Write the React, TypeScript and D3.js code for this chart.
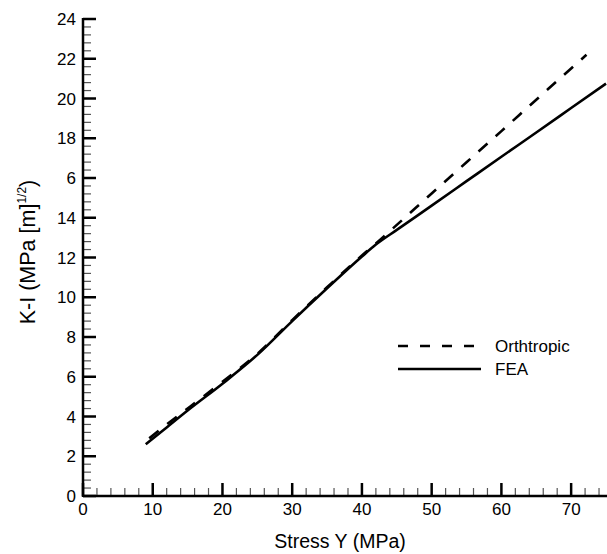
import React from "react";
import * as d3 from "d3";

const fea_x = [9, 12, 15, 20, 25, 30, 35, 40, 42, 45, 50, 55, 60, 65, 70, 75];
const fea_y = [2.6, 3.45, 4.3, 5.65, 7.1, 8.8, 10.45, 12.05, 12.65, 13.39, 14.61, 15.84, 17.07, 18.29, 19.52, 20.75];

const ortho_x = [9.5, 12, 15, 20, 25, 30, 35, 40, 42, 45, 50, 55, 60, 65, 70, 72.2];
const ortho_y = [2.9, 3.6, 4.4, 5.75, 7.15, 8.85, 10.5, 12.1, 12.7, 13.64, 15.22, 16.79, 18.36, 19.94, 21.51, 22.2];

const xTicks = [0, 10, 20, 30, 40, 50, 60, 70];
const xTickLabels = ["0", "10", "20", "30", "40", "50", "60", "70"];
const yTicks = [0, 2, 4, 6, 8, 10, 12, 14, 16, 18, 20, 22, 24];
const yTickLabels = ["0", "2", "4", "6", "8", "10", "12", "14", "6", "18", "20", "22", "24"];

const seriesNames = ["Orthtropic", "FEA"];

const W = 607;
const H = 554;
const L = 83, R = 606, T = 19, B = 496;
const FONT = "Liberation Sans, Arial, Helvetica, sans-serif";

export default function App() {
  const x = d3.scaleLinear().domain([0, 75]).range([L, R]);
  const y = d3.scaleLinear().domain([0, 24]).range([B, T]);
  const line = d3
    .line<[number, number]>()
    .x((d) => x(d[0]))
    .y((d) => y(d[1]))
    .curve(d3.curveMonotoneX);

  const feaData: [number, number][] = fea_x.map((v, i) => [v, fea_y[i]]);
  const orthoData: [number, number][] = ortho_x.map((v, i) => [v, ortho_y[i]]);

  const xMinor = d3.range(0, 75.001, 2).filter((v) => v % 10 !== 0);
  const yMinor = d3.range(0, 24.001, 0.4).filter((v) => Math.abs(v / 2 - Math.round(v / 2)) > 1e-6);

  return (
    <svg
      width={W}
      height={H}
      style={{ position: "absolute", left: 0, top: 0, background: "#fff" }}
      fontFamily={FONT}
    >
      <rect x={0} y={0} width={W} height={H} fill="#fff" />
      {xMinor.map((v) => (
        <line key={"xm" + v} x1={x(v)} x2={x(v)} y1={B} y2={B - 8} stroke="#555" strokeWidth={1.2} />
      ))}
      {yMinor.map((v) => (
        <line key={"ym" + v} x1={L} x2={L + 8} y1={y(v)} y2={y(v)} stroke="#555" strokeWidth={1.2} />
      ))}
      {xTicks.map((v) => (
        <line key={"xM" + v} x1={x(v)} x2={x(v)} y1={B} y2={B - 13} stroke="#000" strokeWidth={2.5} />
      ))}
      {yTicks.map((v) => (
        <line key={"yM" + v} x1={L} x2={L + 13} y1={y(v)} y2={y(v)} stroke="#000" strokeWidth={2.5} />
      ))}
      <line x1={L} x2={R + 1} y1={B} y2={B} stroke="#000" strokeWidth={2.5} />
      <line x1={L} x2={L} y1={T - 1} y2={B + 1} stroke="#000" strokeWidth={2.5} />
      {xTicks.map((v, i) => (
        <text key={"xl" + v} x={x(v)} y={515} textAnchor="middle" fontSize={17} fill="#000">
          {xTickLabels[i]}
        </text>
      ))}
      {yTicks.map((v, i) => (
        <text key={"yl" + v} x={76} y={y(v) + 6} textAnchor="end" fontSize={17} fill="#000">
          {yTickLabels[i]}
        </text>
      ))}
      <text x={340} y={548} textAnchor="middle" fontSize={19.5} fill="#000">
        Stress Y (MPa)
      </text>
      <text transform="translate(35,252) rotate(-90)" textAnchor="middle" fontSize={21.5} fill="#000">
        K-I (MPa [m]
        <tspan fontSize={12} dy={-9}>1/2</tspan>
        <tspan dy={9}>)</tspan>
      </text>
      <path d={line(orthoData) || ""} fill="none" stroke="#000" strokeWidth={2.6} strokeDasharray="12,11" />
      <path d={line(feaData) || ""} fill="none" stroke="#000" strokeWidth={2.6} />
      <line x1={398} x2={481} y1={346} y2={346} stroke="#000" strokeWidth={2.5} strokeDasharray="10,12" />
      <text x={495} y={352} fontSize={17} fill="#000">{seriesNames[0]}</text>
      <line x1={398} x2={481} y1={369} y2={369} stroke="#000" strokeWidth={2.5} />
      <text x={495} y={375} fontSize={17} fill="#000">{seriesNames[1]}</text>
    </svg>
  );
}
